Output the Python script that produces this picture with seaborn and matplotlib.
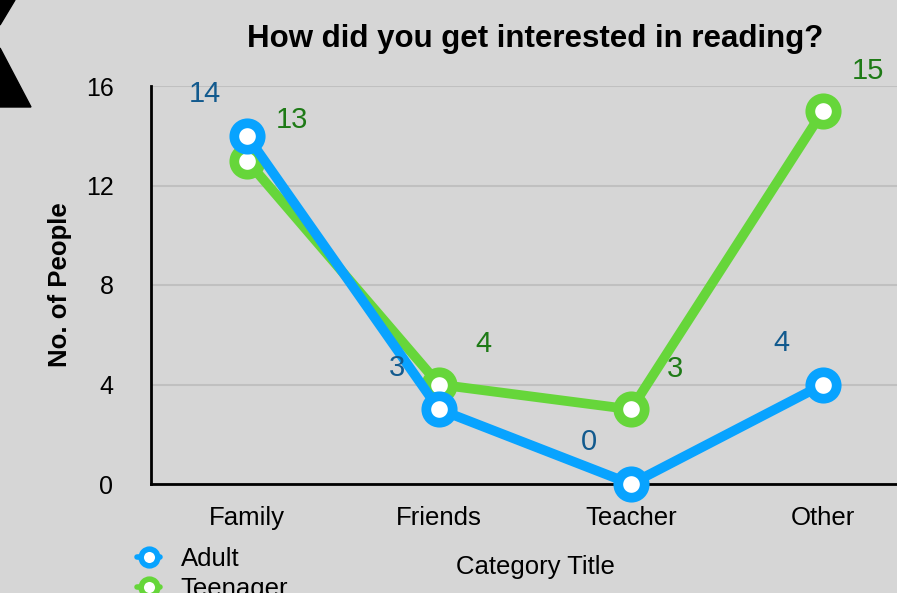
import matplotlib
matplotlib.use("Agg")
import matplotlib.pyplot as plt
from matplotlib.lines import Line2D
from matplotlib.patches import Polygon
import seaborn as sns
import pandas as pd

# data
categories = ["Family", "Friends", "Teacher", "Other"]
adult = [14, 3, 0, 4]
teenager = [13, 4, 3, 15]

BG = "#d6d6d6"
BLUE = "#08a3ff"
GREEN = "#66d63a"
BLUE_TXT = "#125a8e"
GREEN_TXT = "#1e7a16"

sns.set_theme(style="white")
plt.rcParams["font.family"] = ["Liberation Sans", "DejaVu Sans"]
plt.rcParams["text.color"] = "black"

df = pd.DataFrame({"Category": categories, "Adult": adult, "Teenager": teenager})

fig = plt.figure(figsize=(8.97, 5.93), dpi=100, facecolor=BG)
ax = fig.add_axes([151 / 897, 1 - 484 / 593, 768 / 897, 398 / 593])
ax.set_facecolor(BG)

line_kw = dict(lw=7, marker="o", markersize=19, markeredgewidth=7,
               markerfacecolor="white", clip_on=False, zorder=3)
sns.lineplot(data=df, x="Category", y="Teenager", ax=ax, color=GREEN,
             markeredgecolor=GREEN, **line_kw)
sns.lineplot(data=df, x="Category", y="Adult", ax=ax, color=BLUE,
             markeredgecolor=BLUE, **line_kw)

# data labels
for i, v in enumerate(adult):
    ax.annotate(str(v), (i, v), xytext=(-30, 30), textcoords="offset points",
                ha="center", va="center", color=BLUE_TXT, fontsize=21)
for i, v in enumerate(teenager):
    ax.annotate(str(v), (i, v), xytext=(32, 29), textcoords="offset points",
                ha="center", va="center", color=GREEN_TXT, fontsize=21)

ax.set_xlim(-0.5, 3.5)
ax.set_ylim(0, 16)
ax.set_yticks([0, 4, 8, 12, 16])
ax.set_xticks([-0.5, 0.5, 1.5, 2.5])
ax.set_xticklabels([])
ax.set_xticks(range(4), minor=True)
ax.set_xticklabels(categories, minor=True)
ax.tick_params(axis="x", which="major", direction="out", length=6, width=2, color="black")
ax.tick_params(axis="x", which="minor", length=0, labelsize=18.5, pad=16, labelcolor="black")
ax.tick_params(axis="y", direction="out", length=6, width=2, color="black",
               labelsize=18, pad=21, labelcolor="black")
ax.yaxis.grid(True, color="#c0c0c0", lw=1.5)
ax.set_axisbelow(True)

sns.despine(ax=ax)
for s in ["left", "bottom"]:
    ax.spines[s].set_color("black")
    ax.spines[s].set_linewidth(2)

ax.set_xlabel("Category Title", fontsize=18.5, labelpad=18, color="black")
ax.set_ylabel("No. of People", fontsize=18.5, fontweight="bold", labelpad=10, color="black")
ax.set_title("How did you get interested in reading?", fontsize=22.5,
             fontweight="bold", pad=28, color="black")

# legend
handles = [
    Line2D([], [], color=BLUE, lw=4, marker="o", markersize=12, markeredgewidth=4,
           markerfacecolor="white", markeredgecolor=BLUE),
    Line2D([], [], color=GREEN, lw=4, marker="o", markersize=12, markeredgewidth=4,
           markerfacecolor="white", markeredgecolor=GREEN),
]
fig.legend(handles, ["Adult", "Teenager"], loc="upper left",
           bbox_to_anchor=(137 / 897, 1 - 547 / 593), frameon=False,
           fontsize=18.5, handlelength=0.9, handletextpad=0.8, labelspacing=0.25,
           borderaxespad=0, borderpad=0, labelcolor="black")

# black chevron piece in the corner
def px(pts):
    return [(x / 897, 1 - y / 593) for x, y in pts]

fig.add_artist(Polygon(px([(0, 0), (15, 0), (0, 25)]), closed=True,
                       color="black", transform=fig.transFigure))
fig.add_artist(Polygon(px([(0, 48), (31, 107), (0, 107)]), closed=True,
                       color="black", transform=fig.transFigure))

fig.savefig("out.png", dpi=100, facecolor=BG)
